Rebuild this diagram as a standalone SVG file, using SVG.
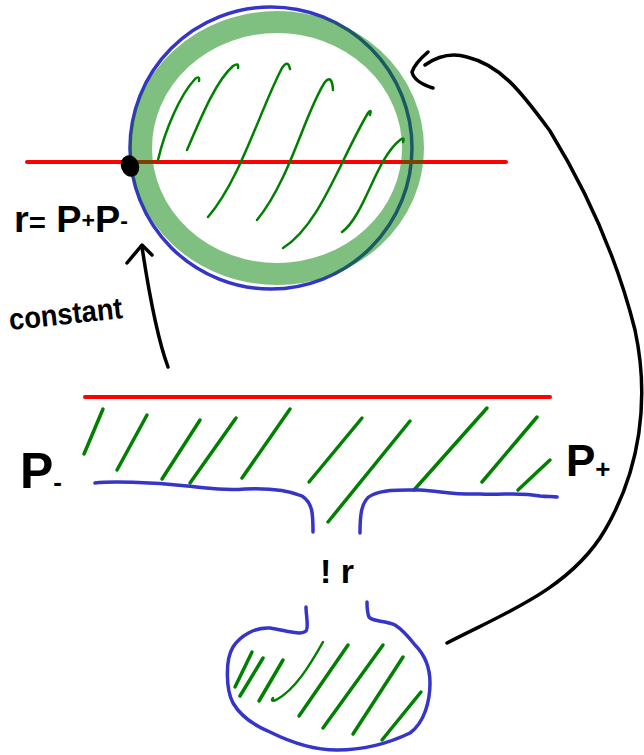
<svg xmlns="http://www.w3.org/2000/svg" width="644" height="755" viewBox="0 0 644 755">
<style>
.red{stroke:#ff0000;stroke-width:4;fill:none;stroke-linecap:round}
.blue{stroke:#3535c8;stroke-width:3.5;fill:none;stroke-linecap:round;stroke-linejoin:round}
.hatch{stroke:#008000;stroke-width:3.5;fill:none;stroke-linecap:round}
.hatchc{stroke:#008000;stroke-width:2.5;fill:none;stroke-linecap:round}
.ink{stroke:#000;stroke-width:3.5;fill:none;stroke-linecap:round;stroke-linejoin:round}
.lbl{font-family:"Liberation Sans",Arial,sans-serif;font-weight:bold;fill:#000}
</style>
<rect width="644" height="755" fill="#fff"/>
<g id="circle-region">
  <circle cx="271" cy="148" r="141" class="blue" stroke-width="3"/>
  <line x1="27" y1="162" x2="506" y2="162" class="red"/>
  <path class="hatchc" d="M158,160 C165,130 180,95 195,79 Q200,75 199,81"/>
  <path class="hatchc" d="M187,150 C200,120 215,82 233,66 Q239,62 238,68"/>
  <path class="hatchc" d="M208,217 C240,180 260,110 282,68 Q288,59 290,69"/>
  <path class="hatchc" d="M257,220 C290,180 305,112 325,82 Q332,74 333,90"/>
  <path class="hatchc" d="M283,248 C320,225 340,160 368,113 Q372,108 370,115"/>
  <path class="hatchc" d="M342,232 C365,215 375,160 400,140 Q405,136 403,142"/>
  <ellipse cx="277" cy="148" rx="136" ry="126" fill="none" stroke="#008000" stroke-opacity="0.5" stroke-width="22"/>
  <ellipse cx="130" cy="166" rx="9" ry="11" fill="#000" transform="rotate(-20 130 166)"/>
</g>
<g id="label-r">
  <text class="lbl" x="14" y="232" font-size="36" textLength="114" lengthAdjust="spacingAndGlyphs">r<tspan font-size="28">=</tspan> P<tspan font-size="22" dy="-4">+</tspan><tspan dy="4">P</tspan><tspan font-size="22" dy="-4">-</tspan></text>
</g>
<g id="label-constant">
  <text class="lbl" x="10" y="330" font-size="30" textLength="114" lengthAdjust="spacingAndGlyphs" transform="rotate(-6 10 330)">constant</text>
</g>
<g id="band">
  <line x1="85" y1="397" x2="550" y2="397" class="red"/>
  <line class="hatch" x1="103" y1="409" x2="84" y2="454"/>
  <line class="hatch" x1="147" y1="415" x2="117" y2="470"/>
  <line class="hatch" x1="200" y1="420" x2="162" y2="479"/>
  <line class="hatch" x1="236" y1="418" x2="190" y2="483"/>
  <line class="hatch" x1="290" y1="409" x2="242" y2="478"/>
  <line class="hatch" x1="362" y1="418" x2="309" y2="482"/>
  <line class="hatch" x1="410" y1="421" x2="328" y2="522"/>
  <line class="hatch" x1="487" y1="408" x2="414" y2="490"/>
  <line class="hatch" x1="537" y1="417" x2="482" y2="482"/>
  <line class="hatch" x1="550" y1="460" x2="518" y2="490"/>
  <path class="blue" d="M95,483 C110,481 150,482 187,486 C210,488 220,491 245,489 C270,488 290,491 302,496 C313,503 313,515 313,532"/>
  <path class="blue" d="M360,533 C360,520 360,500 372,495 C385,489 400,490 420,490 C440,491 455,495 480,494 C505,495 520,492 540,496 C548,497 553,496 557,497"/>
</g>
<g id="label-pminus">
  <text class="lbl" x="20" y="488" font-size="50" textLength="42" lengthAdjust="spacingAndGlyphs">P<tspan font-size="26" dy="3">-</tspan></text>
</g>
<g id="label-pplus">
  <text class="lbl" x="566" y="476" font-size="44">P<tspan font-size="26" dy="2">+</tspan></text>
</g>
<g id="label-not-r">
  <text class="lbl" x="320" y="583" font-size="34">! r</text>
</g>
<g id="blob">
  <path class="blue" d="M306,607 C306,615 309,628 306,631 C300,636 285,630 270,628 C255,627 240,636 233,647 C225,660 226,690 233,703 C240,715 253,725 270,732 C290,742 315,750 337,750 C360,750 385,745 410,733 C425,722 430,700 430,683 C430,668 425,655 415,645 C408,636 403,630 395,625 C385,620 372,622 369,617 C367,612 367,605 367,602"/>
  <line class="hatch" x1="252" y1="652" x2="235" y2="687"/>
  <line class="hatch" x1="263" y1="658" x2="240" y2="696"/>
  <line class="hatch" x1="283" y1="660" x2="259" y2="701"/>
  <path class="hatchc" d="M323,642 C310,665 295,690 276,700 Q270,702 273,698"/>
  <line class="hatch" x1="348" y1="645" x2="299" y2="716"/>
  <line class="hatch" x1="383" y1="645" x2="323" y2="728"/>
  <line class="hatch" x1="403" y1="657" x2="353" y2="734"/>
  <line class="hatch" x1="421" y1="692" x2="382" y2="740"/>
</g>
<g id="connectors">
  <path class="ink" d="M168,367 C158,340 150,300 142,247"/>
  <path class="ink" d="M127,263 L142,245 L152,255"/>
  <path class="ink" stroke-width="3" d="M447,643 C500,615 570,590 605,530 C640,470 650,400 635,330 C615,250 580,180 550,131 C520,90 500,65 467,57 C450,52 435,58 425,65"/>
  <path class="ink" d="M428,52 Q415,63 412,72 Q414,82 433,88"/>
</g>
</svg>
